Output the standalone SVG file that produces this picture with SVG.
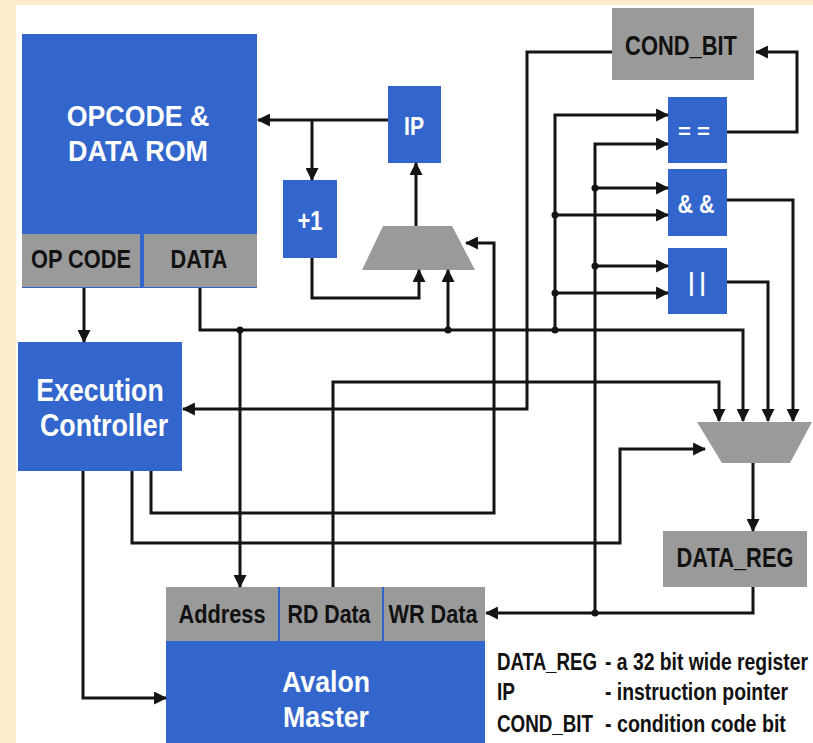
<svg xmlns="http://www.w3.org/2000/svg" width="813" height="743" viewBox="0 0 813 743">
<defs>
<style>
.blue{fill:#3366cc}
.gray{fill:#9a9a9a}
.w{fill:#ffffff;font-family:"Liberation Sans",Arial,sans-serif;font-weight:bold;text-anchor:middle}
.k{fill:#111111;font-family:"Liberation Sans",Arial,sans-serif;font-weight:bold;text-anchor:middle}
.lg{fill:#111111;font-family:"Liberation Sans",Arial,sans-serif;font-weight:bold;font-size:24px}
.c path{fill:none;stroke:#161412;stroke-width:3;stroke-linejoin:miter}
.dot{fill:#161412}
</style>
<marker id="ah" viewBox="0 0 12 12" refX="11" refY="6" markerWidth="13" markerHeight="13" markerUnits="userSpaceOnUse" orient="auto">
<path d="M0,0 L12,6 L0,12 z" fill="#161412"/>
</marker>
</defs>
<rect x="0" y="0" width="813" height="743" fill="#fbeccb"/>
<rect x="16" y="5" width="797" height="738" fill="#ffffff"/>

<g id="rom">
<rect class="blue" x="22" y="34" width="235" height="254"/>
<rect class="gray" x="22" y="234" width="118" height="53"/>
<rect class="gray" x="144" y="234" width="113" height="53"/>
<text class="w" transform="translate(138,126) scale(0.88,1)" font-size="30" textLength="162" lengthAdjust="spacingAndGlyphs">OPCODE &amp;</text>
<text class="w" transform="translate(138,161) scale(0.88,1)" font-size="30" textLength="159" lengthAdjust="spacingAndGlyphs">DATA ROM</text>
<text class="k" transform="translate(81,268) scale(0.87,1)" font-size="25" textLength="115" lengthAdjust="spacingAndGlyphs">OP CODE</text>
<text class="k" transform="translate(199,268) scale(0.82,1)" font-size="25" textLength="69.5" lengthAdjust="spacingAndGlyphs">DATA</text>
</g>

<g id="ip">
<rect class="blue" x="388" y="86" width="53" height="77"/>
<text class="w" transform="translate(414,135) scale(0.85,1)" font-size="25" textLength="23.5" lengthAdjust="spacingAndGlyphs">IP</text>
</g>

<g id="inc">
<rect class="blue" x="283" y="180" width="54" height="78"/>
<text class="w" transform="translate(310,230) scale(0.81,1)" font-size="27" textLength="31" lengthAdjust="spacingAndGlyphs">+1</text>
</g>

<g id="ipmux">
<polygon class="gray" points="383,226 452,226 475,270 362,270"/>
</g>

<g id="condbit">
<rect class="gray" x="612" y="8" width="142" height="72"/>
<text class="k" transform="translate(681,55) scale(0.81,1)" font-size="27" textLength="138" lengthAdjust="spacingAndGlyphs">COND_BIT</text>
</g>

<g id="eq">
<rect class="blue" x="668" y="97" width="59" height="66"/>
<text class="w" x="694" y="138" font-size="21" textLength="32" lengthAdjust="spacingAndGlyphs">= =</text>
</g>

<g id="and">
<rect class="blue" x="668" y="169" width="59" height="67"/>
<text class="w" transform="translate(696,213) scale(0.86,1)" font-size="25" textLength="43" lengthAdjust="spacingAndGlyphs">&amp; &amp;</text>
</g>

<g id="or">
<rect class="blue" x="668" y="248" width="59" height="66"/>
<text class="w" transform="translate(697,291) scale(0.81,1)" font-size="25" textLength="21" lengthAdjust="spacingAndGlyphs">| |</text>
</g>

<g id="datamux">
<polygon class="gray" points="697,422 812,422 790,463 722,463"/>
</g>

<g id="datareg">
<rect class="gray" x="663" y="531" width="144" height="56"/>
<text class="k" transform="translate(735,567) scale(0.79,1)" font-size="27" textLength="148" lengthAdjust="spacingAndGlyphs">DATA_REG</text>
</g>

<g id="exec">
<rect class="blue" x="18" y="342" width="164" height="129"/>
<text class="w" transform="translate(100,401) scale(0.86,1)" font-size="31" textLength="148" lengthAdjust="spacingAndGlyphs">Execution</text>
<text class="w" transform="translate(104,436) scale(0.86,1)" font-size="31" textLength="149" lengthAdjust="spacingAndGlyphs">Controller</text>
</g>

<g id="avalon">
<rect class="blue" x="166" y="587" width="319" height="156"/>
<rect class="gray" x="166" y="587" width="112" height="54"/>
<rect class="gray" x="280" y="587" width="102" height="54"/>
<rect class="gray" x="384" y="587" width="101" height="54"/>
<text class="k" transform="translate(222,623) scale(0.87,1)" font-size="25" textLength="100" lengthAdjust="spacingAndGlyphs">Address</text>
<text class="k" transform="translate(329,623) scale(0.855,1)" font-size="25" textLength="97" lengthAdjust="spacingAndGlyphs">RD Data</text>
<text class="k" transform="translate(433,623) scale(0.866,1)" font-size="25" textLength="103" lengthAdjust="spacingAndGlyphs">WR Data</text>
<text class="w" transform="translate(326,692) scale(0.88,1)" font-size="30" textLength="100" lengthAdjust="spacingAndGlyphs">Avalon</text>
<text class="w" transform="translate(326,727) scale(0.89,1)" font-size="30" textLength="96.6" lengthAdjust="spacingAndGlyphs">Master</text>
</g>

<g id="legend" transform="translate(497,0) scale(0.79,1)">
<text class="lg" x="0" y="670" textLength="126.6" lengthAdjust="spacingAndGlyphs">DATA_REG</text>
<text class="lg" x="136.7" y="670" textLength="257" lengthAdjust="spacingAndGlyphs">- a 32 bit wide register</text>
<text class="lg" x="0" y="700" textLength="22.8" lengthAdjust="spacingAndGlyphs">IP</text>
<text class="lg" x="136.7" y="700" textLength="231.6" lengthAdjust="spacingAndGlyphs">- instruction pointer</text>
<text class="lg" x="0" y="732" textLength="121.5" lengthAdjust="spacingAndGlyphs">COND_BIT</text>
<text class="lg" x="136.7" y="732" textLength="229" lengthAdjust="spacingAndGlyphs">- condition code bit</text>
</g>

<g id="connectors" class="c">
<path d="M388,120 H258" marker-end="url(#ah)"/>
<path d="M312,120 V180" marker-end="url(#ah)"/>
<path d="M312,258 V298 H419 V270" marker-end="url(#ah)"/>
<path d="M416,226 V163" marker-end="url(#ah)"/>
<path d="M200,288 V330 H743 V421" marker-end="url(#ah)"/>
<path d="M448,330 V270" marker-end="url(#ah)"/>
<path d="M240,330 V587" marker-end="url(#ah)"/>
<path d="M555,330 V115 H668" marker-end="url(#ah)"/>
<path d="M555,215 H668" marker-end="url(#ah)"/>
<path d="M555,293 H668" marker-end="url(#ah)"/>
<path d="M753,587 V613 H486" marker-end="url(#ah)"/>
<path d="M595,613 V144 H668" marker-end="url(#ah)"/>
<path d="M595,188 H668" marker-end="url(#ah)"/>
<path d="M595,266 H668" marker-end="url(#ah)"/>
<path d="M727,132 H797 V52 H756" marker-end="url(#ah)"/>
<path d="M612,52 H527 V409 H183" marker-end="url(#ah)"/>
<path d="M727,200 H793 V421" marker-end="url(#ah)"/>
<path d="M727,282 H768 V421" marker-end="url(#ah)"/>
<path d="M333,587 V382 H719 V421" marker-end="url(#ah)"/>
<path d="M84,288 V342" marker-end="url(#ah)"/>
<path d="M83,471 V698 H166" marker-end="url(#ah)"/>
<path d="M151,471 V513 H494 V243 H466" marker-end="url(#ah)"/>
<path d="M132,471 V543 H620 V449 H705" marker-end="url(#ah)"/>
<path d="M753,463 V531" marker-end="url(#ah)"/>
<circle class="dot" cx="240" cy="330" r="3.5"/>
<circle class="dot" cx="448" cy="330" r="3.5"/>
<circle class="dot" cx="555" cy="330" r="3.5"/>
<circle class="dot" cx="555" cy="215" r="3.5"/>
<circle class="dot" cx="555" cy="293" r="3.5"/>
<circle class="dot" cx="595" cy="613" r="3.5"/>
<circle class="dot" cx="595" cy="188" r="3.5"/>
<circle class="dot" cx="595" cy="266" r="3.5"/>
</g>
</svg>
